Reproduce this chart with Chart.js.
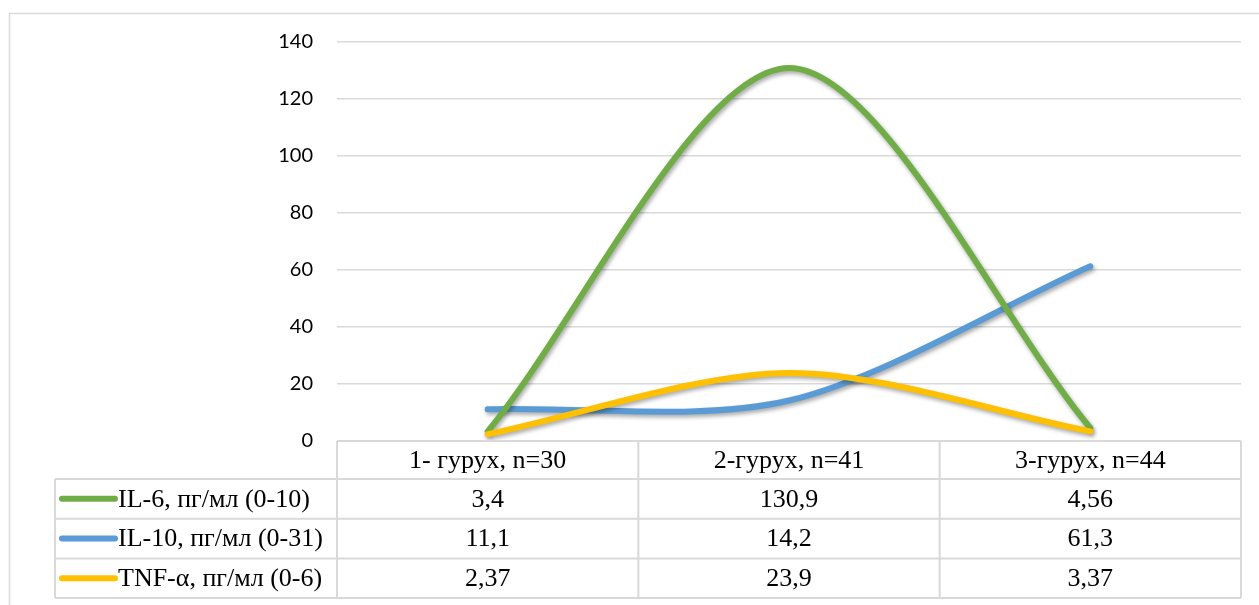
<!DOCTYPE html>
<html>
<head>
<meta charset="utf-8">
<script src="https://cdn.jsdelivr.net/npm/chart.js@4/dist/chart.umd.min.js"></script>
<style>
  html, body { margin: 0; padding: 0; background: #ffffff; }
  #wrap { position: relative; width: 1259px; height: 605px; }
  canvas { display: block; }
</style>
</head>
<body>
<div id="wrap"><canvas id="c" width="1259" height="605"></canvas></div>
<script>
// Groups (columns of the data table and x categories)
const categories = ['1- гурух, n=30', '2-гурух, n=41', '3-гурух, n=44'];

// Series names as shown in the legend column of the table
const seriesNames = ['IL-6, пг/мл (0-10)', 'IL-10, пг/мл (0-31)', 'TNF-α, пг/мл (0-6)'];

// Measured values per group
const il6Values = [3.4, 130.9, 4.56];
const il10Values = [11.1, 14.2, 61.3];
const tnfValues = [2.37, 23.9, 3.37];

// Value axis ticks
const yMin = 0;
const yMax = 140;
const yStep = 20;

const seriesColors = ['#70AD47', '#5B9BD5', '#FFC000'];
const seriesValues = [il6Values, il10Values, tnfValues];

const GRID = '#d9d9d9';
const SERIF = '"Liberation Serif", "Times New Roman", serif';

// Decimal comma formatting for the table cells
function fmt(v) { return String(v).replace('.', ','); }

// Soft drop shadow under every line
const lineShadow = {
  id: 'lineShadow',
  beforeDatasetDraw(chart) {
    const ctx = chart.ctx;
    ctx.save();
    ctx.shadowColor = 'rgba(0,0,0,0.35)';
    ctx.shadowBlur = 4;
    ctx.shadowOffsetX = 1.5;
    ctx.shadowOffsetY = 2.5;
  },
  afterDatasetDraw(chart) {
    chart.ctx.restore();
  }
};

// Outer frame plus the data table under the plot area
const dataTable = {
  id: 'dataTable',
  beforeDraw(chart) {
    const ctx = chart.ctx;
    ctx.save();
    ctx.fillStyle = '#ffffff';
    ctx.fillRect(0, 0, chart.width, chart.height);
    ctx.strokeStyle = GRID;
    ctx.lineWidth = 1.5;
    ctx.beginPath();
    ctx.moveTo(9.5, chart.height + 2);
    ctx.lineTo(9.5, 13.5);
    ctx.lineTo(chart.width + 2, 13.5);
    ctx.stroke();
    ctx.restore();
  },
  afterDraw(chart) {
    const ctx = chart.ctx;
    const area = chart.chartArea;
    const xs = chart.scales.x;
    const n = chart.data.labels.length;
    const colW = (area.right - area.left) / n;
    const top = area.bottom;
    const headerH = 38;
    const rowH = 39.7;
    const legendLeft = 55;
    const rowsTop = top + headerH;
    const bottom = rowsTop + rowH * seriesNames.length;

    ctx.save();
    ctx.strokeStyle = GRID;
    ctx.lineWidth = 2;
    ctx.beginPath();
    // header row borders
    ctx.moveTo(area.left, top);
    ctx.lineTo(area.right, top);
    // value row borders
    for (let r = 0; r <= seriesNames.length; r++) {
      const y = rowsTop + r * rowH;
      ctx.moveTo(legendLeft, y);
      ctx.lineTo(area.right, y);
    }
    // column separators
    for (let c = 0; c <= n; c++) {
      const x = area.left + c * colW;
      ctx.moveTo(x, top);
      ctx.lineTo(x, bottom);
    }
    ctx.moveTo(legendLeft, rowsTop);
    ctx.lineTo(legendLeft, bottom);
    ctx.stroke();

    ctx.fillStyle = '#000000';
    ctx.font = '26px ' + SERIF;
    ctx.textBaseline = 'middle';
    ctx.textAlign = 'center';
    chart.data.labels.forEach((lab, i) => {
      ctx.fillText(lab, xs.getPixelForValue(i), top + headerH / 2 + 1);
    });

    chart.data.datasets.forEach((ds, r) => {
      const cy = rowsTop + r * rowH + rowH / 2 + 1;
      ds.data.forEach((v, i) => {
        ctx.textAlign = 'center';
        ctx.fillText(fmt(v), xs.getPixelForValue(i), cy);
      });
      // legend key
      ctx.strokeStyle = ds.borderColor;
      ctx.lineWidth = 6;
      ctx.lineCap = 'round';
      ctx.beginPath();
      ctx.moveTo(62, cy - 1);
      ctx.lineTo(115, cy - 1);
      ctx.stroke();
      ctx.textAlign = 'left';
      ctx.fillText(ds.label, 118, cy);
    });
    ctx.restore();
  }
};

const datasets = seriesNames.map((name, i) => ({
  label: name,
  data: seriesValues[i],
  borderColor: seriesColors[i],
  backgroundColor: seriesColors[i],
  borderWidth: 6,
  borderCapStyle: 'round',
  borderJoinStyle: 'round',
  pointRadius: 0,
  pointHoverRadius: 0,
  tension: 0.3,
  fill: false,
  // yellow on top, then green, then blue
  order: [1, 2, 0][i]
}));

new Chart(document.getElementById('c'), {
  type: 'line',
  data: { labels: categories, datasets },
  plugins: [dataTable, lineShadow],
  options: {
    responsive: false,
    animation: false,
    events: [],
    layout: { padding: { left: 0, right: 18, top: 42, bottom: 164 } },
    plugins: {
      legend: { display: false },
      tooltip: { enabled: false },
      title: { display: false }
    },
    scales: {
      x: {
        type: 'category',
        offset: true,
        display: false
      },
      y: {
        min: yMin,
        max: yMax,
        afterFit(scale) { scale.width = 337; },
        border: { display: false },
        grid: { color: GRID, lineWidth: 1.5, drawTicks: false },
        ticks: {
          stepSize: yStep,
          padding: 24,
          color: '#000000',
          font: { family: 'Lato, "Open Sans", sans-serif', size: 20 }
        }
      }
    }
  }
});
</script>
</body>
</html>
